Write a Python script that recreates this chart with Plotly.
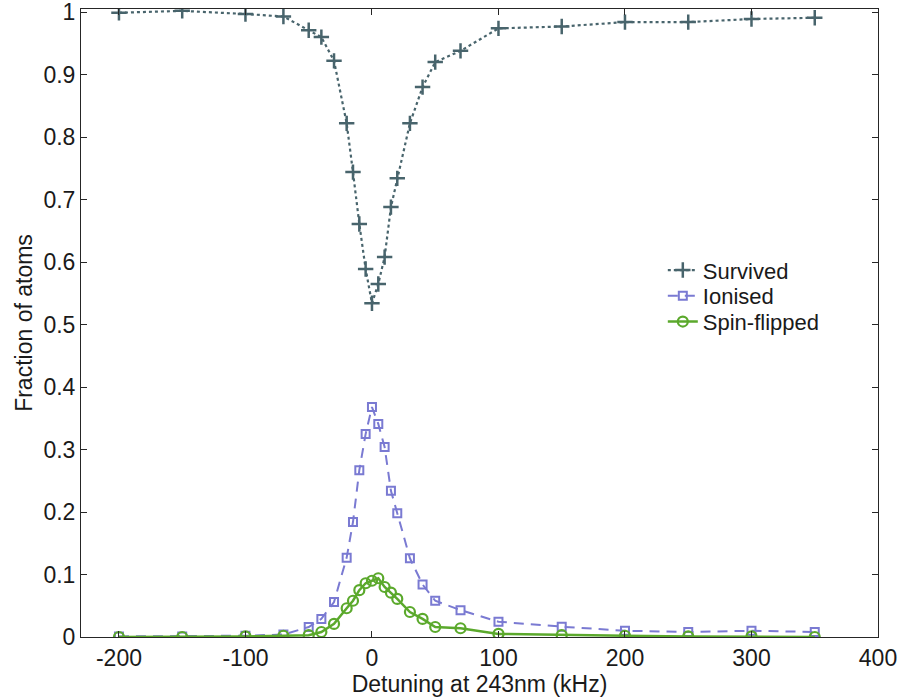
import plotly.graph_objects as go

x_surv = [-200, -150, -100, -70, -50, -40, -30, -20, -15, -10, -5, 0, 5, 10, 15, 20, 30, 40, 50, 70, 100, 150, 200, 250, 300, 350]
survived = [0.999, 1.002, 0.997, 0.993, 0.971, 0.960, 0.922, 0.822, 0.744, 0.661, 0.589, 0.534, 0.565, 0.608, 0.688, 0.734, 0.822, 0.880, 0.920, 0.938, 0.974, 0.977, 0.984, 0.984, 0.989, 0.991]
ionised = [0.001, 0.001, 0.002, 0.004, 0.016, 0.029, 0.056, 0.127, 0.184, 0.267, 0.325, 0.368, 0.341, 0.304, 0.234, 0.198, 0.126, 0.084, 0.058, 0.043, 0.0245, 0.0165, 0.010, 0.008, 0.010, 0.008]
spinflip = [0.0, 0.0, 0.001, 0.002, 0.003, 0.008, 0.021, 0.046, 0.058, 0.075, 0.086, 0.090, 0.094, 0.080, 0.071, 0.061, 0.040, 0.029, 0.016, 0.014, 0.005, 0.003, 0.002, 0.001, 0.001, 0.0]

x_ticks = [-200, -100, 0, 100, 200, 300, 400]
y_ticks = [0, 0.1, 0.2, 0.3, 0.4, 0.5, 0.6, 0.7, 0.8, 0.9, 1]
y_tick_text = ["0", "0.1", "0.2", "0.3", "0.4", "0.5", "0.6", "0.7", "0.8", "0.9", "1"]

FONT = "Liberation Sans, Arial, Helvetica, sans-serif"

fig = go.Figure()
fig.add_trace(go.Scatter(
    x=x_surv, y=survived, name="Survived", mode="lines+markers", legend="legend2",
    line=dict(color="#48646c", width=2.2, dash="dot"),
    marker=dict(symbol="cross-thin-open", size=11, line=dict(color="#48646c", width=2.5)),
))
fig.add_trace(go.Scatter(
    x=x_surv, y=ionised, name="Ionised", mode="lines+markers", legend="legend3",
    line=dict(color="#7a7ad2", width=2, dash="10px,7px"),
    marker=dict(symbol="square-open", size=8, line=dict(color="#7a7ad2", width=2)),
))
fig.add_trace(go.Scatter(
    x=x_surv, y=spinflip, name="Spin-flipped", mode="lines+markers", legend="legend4",
    line=dict(color="#5ba92c", width=2.5),
    marker=dict(symbol="circle-open", size=10, line=dict(color="#5ba92c", width=2.2)),
))

axis_common = dict(
    showgrid=False, zeroline=False, showline=True, linecolor="#262626", linewidth=1,
    mirror="ticks", ticks="inside", ticklen=6, tickcolor="#262626", automargin=False,
    ticklabeloverflow="allow",
    tickfont=dict(size=23, color="#1a1a1a", family=FONT),
)
fig.update_xaxes(range=[-230, 400], tickvals=x_ticks, ticktext=[str(v) for v in x_ticks],
                 title=dict(text="Detuning at 243nm (kHz)", font=dict(size=23, color="#1a1a1a", family=FONT), standoff=0),
                 **axis_common)
fig.update_yaxes(range=[0, 1.005], tickvals=y_ticks, ticktext=y_tick_text,
                 title=dict(text="Fraction of atoms", font=dict(size=23, color="#1a1a1a", family=FONT), standoff=4),
                 **axis_common)

leg_common = dict(x=0.73, xanchor="left", yanchor="middle", bgcolor="rgba(0,0,0,0)",
                  font=dict(size=22, family=FONT, color="#1a1a1a"))
fig.update_layout(
    width=900, height=698,
    margin=dict(l=81, r=22, t=9, b=61),
    paper_bgcolor="white", plot_bgcolor="white",
    font=dict(family=FONT, color="#1a1a1a"),
    showlegend=True,
    legend2=dict(y=0.584, **leg_common),
    legend3=dict(y=0.543, **leg_common),
    legend4=dict(y=0.502, **leg_common),
)

fig.write_html("out.html", config={"displayModeBar": False},
               post_script="document.body.style.margin='0';document.body.style.overflow='hidden';")
